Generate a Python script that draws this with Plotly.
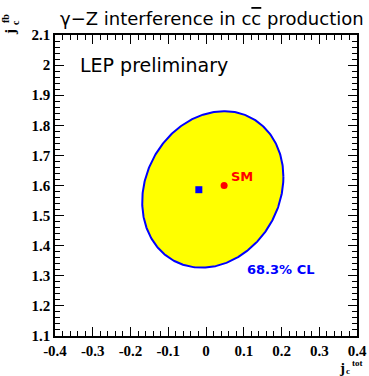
import numpy as np
import plotly.graph_objects as go

# Data
fit_point = {"x": [-0.019], "y": [1.586]}
sm_point = {"x": [0.048], "y": [1.600]}
# 68.3% CL contour: centre, half-extents in x and y, phase (tilt) parameter
contour_center = [0.018, 1.587]
contour_halfwidth = [0.187, 0.260]
contour_cosdelta = 0.16

x_ticks = [-0.4, -0.3, -0.2, -0.1, 0, 0.1, 0.2, 0.3, 0.4]
x_ticklabels = ["-0.4", "-0.3", "-0.2", "-0.1", "0", "0.1", "0.2", "0.3", "0.4"]
y_ticks = [1.1, 1.2, 1.3, 1.4, 1.5, 1.6, 1.7, 1.8, 1.9, 2.0, 2.1]
y_ticklabels = ["1.1", "1.2", "1.3", "1.4", "1.5", "1.6", "1.7", "1.8", "1.9", "2", "2.1"]
x_range = [-0.4, 0.4]
y_range = [1.1, 2.1]

t = np.linspace(0, 2 * np.pi, 361)
delta = np.arccos(contour_cosdelta)
ex = contour_center[0] + contour_halfwidth[0] * np.cos(t)
ey = contour_center[1] + contour_halfwidth[1] * np.cos(t - delta)

fig = go.Figure()
fig.add_trace(go.Scatter(x=ex, y=ey, mode="lines", fill="toself",
                         fillcolor="#ffff00", line=dict(color="#0000ff", width=2),
                         hoverinfo="skip", showlegend=False))
fig.add_trace(go.Scatter(x=fit_point["x"], y=fit_point["y"], mode="markers",
                         marker=dict(symbol="square", size=7, color="#0000ff"),
                         showlegend=False))
fig.add_trace(go.Scatter(x=sm_point["x"], y=sm_point["y"], mode="markers",
                         marker=dict(symbol="circle", size=7, color="#ff0000"),
                         showlegend=False))

tickfont = dict(family="Liberation Serif", size=15, color="black", weight="bold")
axis_common = dict(showgrid=False, zeroline=False, showline=True, linecolor="black",
                   linewidth=1.5, mirror="ticks", ticks="inside", ticklen=9,
                   tickcolor="black", tickwidth=1, tickfont=tickfont, automargin=False)
fig.update_xaxes(range=x_range, tickvals=x_ticks, ticktext=x_ticklabels, tickangle=0,
                 minor=dict(dtick=0.02, tick0=-0.4, ticks="inside", ticklen=5, tickcolor="black"),
                 **axis_common)
fig.update_yaxes(range=y_range, tickvals=y_ticks, ticktext=y_ticklabels, tickangle=0,
                 minor=dict(dtick=0.02, tick0=1.1, ticks="inside", ticklen=5, tickcolor="black"),
                 **axis_common)

gfont = "DejaVu Sans"
serif = "Liberation Serif"
ann = [
    dict(text="γ−Z interference in c<span style='text-decoration:overline'>c</span> production",
         x=0.52, y=1.0, xref="paper", yref="paper", xanchor="center", yanchor="bottom",
         yshift=4, showarrow=False, font=dict(family=gfont, size=18, color="black")),
    dict(text="LEP preliminary", x=-0.34, y=2.00, xref="x", yref="y",
         xanchor="left", yanchor="middle", showarrow=False,
         font=dict(family=gfont, size=19, color="black")),
    dict(text="SM", x=0.062, y=1.63, xref="x", yref="y", xanchor="left",
         yanchor="middle", showarrow=False,
         font=dict(family=gfont, size=13, color="#ff0000", weight="bold")),
    dict(text="68.3% CL", x=0.103, y=1.32, xref="x", yref="y", xanchor="left",
         yanchor="middle", showarrow=False,
         font=dict(family=gfont, size=13, color="#0000ff", weight="bold")),
    # y-axis title (rotated): j, subscript c, superscript fb
    dict(text="<b>j</b>", x=0, y=1, xref="paper", yref="paper", xanchor="center",
         yanchor="middle", xshift=-45, yshift=3, textangle=-90, showarrow=False,
         font=dict(family=serif, size=15, color="black")),
    dict(text="<b>fb</b>", x=0, y=1, xref="paper", yref="paper", xanchor="center",
         yanchor="middle", xshift=-50, yshift=16, textangle=-90, showarrow=False,
         font=dict(family=serif, size=10, color="black")),
    dict(text="<b>c</b>", x=0, y=1, xref="paper", yref="paper", xanchor="center",
         yanchor="middle", xshift=-40, yshift=12, textangle=-90, showarrow=False,
         font=dict(family=serif, size=10, color="black")),
    # x-axis title: j, subscript c, superscript tot
    dict(text="<b>j</b>", x=1, y=0, xref="paper", yref="paper", xanchor="center",
         yanchor="middle", xshift=-15, yshift=-32, showarrow=False,
         font=dict(family=serif, size=15, color="black")),
    dict(text="<b>tot</b>", x=1, y=0, xref="paper", yref="paper", xanchor="center",
         yanchor="middle", xshift=0, yshift=-27, showarrow=False,
         font=dict(family=serif, size=9, color="black")),
    dict(text="<b>c</b>", x=1, y=0, xref="paper", yref="paper", xanchor="center",
         yanchor="middle", xshift=-9, yshift=-35, showarrow=False,
         font=dict(family=serif, size=9, color="black")),
]

fig.update_layout(width=369, height=376, margin=dict(l=55, r=12, t=35, b=40),
                  plot_bgcolor="white", paper_bgcolor="white", annotations=ann)
fig.write_html("out.html")
